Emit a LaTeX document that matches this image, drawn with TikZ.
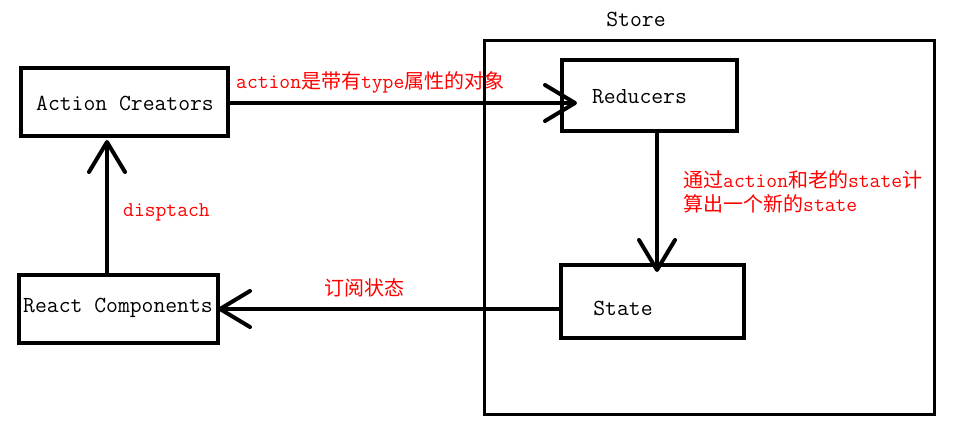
\documentclass[tikz,border=0pt]{standalone}
\usepackage{fontspec}
\newfontfamily\cjk{Noto Sans CJK SC}
\usetikzlibrary{arrows.meta}
\newcommand\zh[1]{{\cjk\fontsize{20}{24}\selectfont #1}}
\begin{document}
\begin{tikzpicture}[x=1pt,y=-1pt,
  box/.style={draw=black,line width=4pt,inner sep=0pt,fill=none},
  storebox/.style={draw=black,line width=3pt,inner sep=0pt},
  lbl/.style={inner sep=0pt,font=\fontsize{23}{24}\selectfont\ttfamily},
  rlbl/.style={inner sep=0pt,text=red,font=\fontsize{21}{24}\selectfont\ttfamily,anchor=west},
  arr/.style={line width=4pt,-{Straight Barb[length=30pt,width=36pt,round]}}]
\useasboundingbox (0,0) rectangle (955,439);
\node[storebox,minimum width=450pt,minimum height=374pt] (store) at (709.5,227.5) {};
\node[lbl] (storet) at (636,19) {Store};
\node[box,minimum width=207pt,minimum height=68pt] (ac) at (124.5,102) {};
\node[lbl] (act) at (125,103) {Action Creators};
\node[box,minimum width=175pt,minimum height=71pt] (red) at (649.5,95.5) {};
\node[lbl] (redt) at (639.5,97) {Reducers};
\node[box,minimum width=183pt,minimum height=73pt] (st) at (652.5,301.5) {};
\node[lbl] (stt) at (623,308) {State};
\node[box,minimum width=199pt,minimum height=68pt] (rc) at (118.5,309) {};
\node[lbl] (rct) at (118,308) {React Components};
% arrows
\draw[arr] ([yshift=-1pt]ac.east) -- ([xshift=17pt,yshift=-1pt]ac.east -| red.west);
\draw[arr] ([xshift=7.5pt]red.south) -- ([xshift=7.5pt,yshift=-9pt]red.south |- st.north);
\draw[arr] ([xshift=-11.5pt]rc.north) -- ([xshift=-17.5pt,yshift=-2pt]ac.south);
\draw[arr] (st.west |- rc.east) -- ([xshift=-2pt]rc.east);
% labels
\node[rlbl] (l1) at (236,82) {action\zh{是带有}type\zh{属性的对象}};
\node[rlbl] (l2) at (123,212) {disptach};
\node[rlbl] (l3) at (683,180) {\zh{通过}action\zh{和老的}state\zh{计}};
\node[rlbl] (l4) at (683,204) {\zh{算出一个新的}state};
\node[rlbl] (l5) at (324,288) {\zh{订阅状态}};
\end{tikzpicture}
\end{document}
